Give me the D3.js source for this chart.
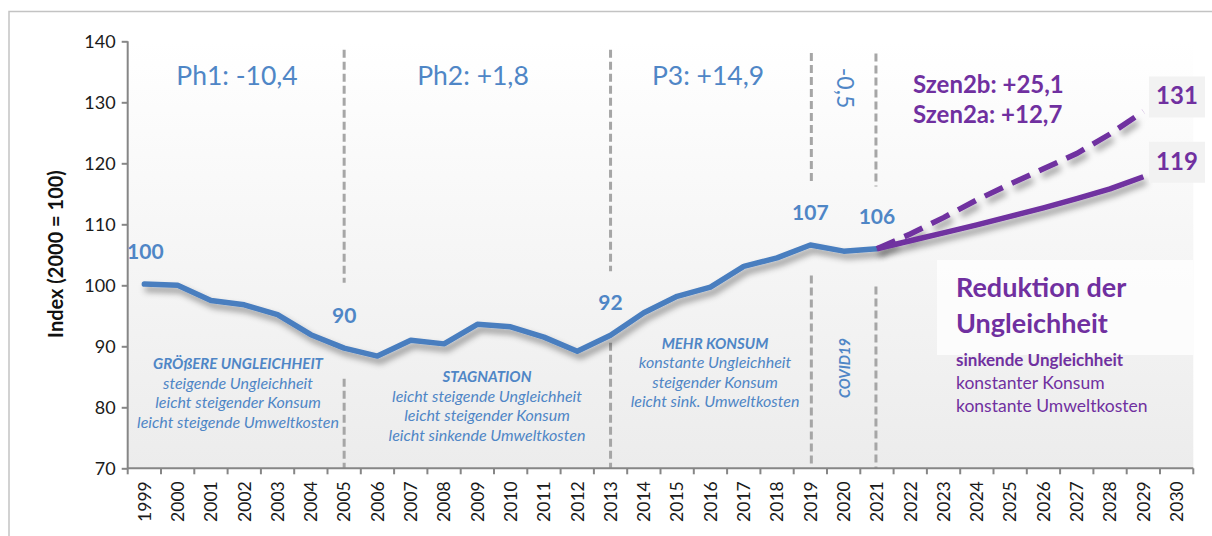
<!DOCTYPE html>
<html><head><meta charset="utf-8">
<script src="https://cdn.jsdelivr.net/npm/d3@7/dist/d3.min.js"></script>
<style>
html,body{margin:0;padding:0;background:#fff;}
svg{display:block;font-family:Lato,"Open Sans",sans-serif;}
</style></head>
<body>
<svg id="chart" width="1212" height="536"></svg>
<script>
// ---------- data ----------
const years = ["1999","2000","2001","2002","2003","2004","2005","2006","2007","2008","2009","2010","2011","2012","2013","2014","2015","2016","2017","2018","2019","2020","2021","2022","2023","2024","2025","2026","2027","2028","2029","2030"];
const histYears = ["1999","2000","2001","2002","2003","2004","2005","2006","2007","2008","2009","2010","2011","2012","2013","2014","2015","2016","2017","2018","2019","2020","2021"];
const histValues = [100.2,100.0,97.5,96.8,95.2,91.9,89.7,88.4,91.0,90.4,93.6,93.2,91.5,89.2,91.8,95.5,98.2,99.7,103.1,104.5,106.6,105.6,106.0];
const scenYears = ["2021","2022","2023","2024","2025","2026","2027","2028","2029"];
const scen2aValues = [106.0,107.3,108.6,109.9,111.3,112.7,114.2,115.8,117.8];
const scen2bValues = [106.0,108.4,111.1,114.0,116.6,119.1,121.6,124.8,128.5];
const yTicks = [70,80,90,100,110,120,130,140];
const pointLabelYears = ["1999","2005","2013","2019","2021"];
const pointLabelTexts = ["100","90","92","107","106"];
const scenEndLabels = ["131","119"];
const phaseTitles = ["Ph1: -10,4","Ph2: +1,8","P3: +14,9"];
const phaseBoundaryYears = ["2005","2013","2019","2021"];
const yAxisTitle = "Index (2000 = 100)";

(function(){
// ---------- layout ----------
const svg = d3.select("#chart");
const pL = 127.7, pR = 1193.3, pT = 41.3, pB = 468.3;
const x = d3.scaleBand().domain(years).range([pL, pR]).paddingInner(0).paddingOuter(0);
const y = d3.scaleLinear().domain([70,140]).range([pB, pT]);
const cx = d => x(d) + x.bandwidth()/2;

const blue = "#4a7ebf", blueText = "#4f86c6", purple = "#7030a0", grid = "#a6a6a6";

const defs = svg.append("defs");
const grad = defs.append("linearGradient").attr("id","bg").attr("x1",0).attr("y1",0).attr("x2",0).attr("y2",1);
grad.append("stop").attr("offset","0%").attr("stop-color","#ffffff");
grad.append("stop").attr("offset","100%").attr("stop-color","#ececec");
const f = defs.append("filter").attr("id","shadow").attr("x","-10%").attr("y","-30%").attr("width","130%").attr("height","180%");
f.append("feDropShadow").attr("dx",3).attr("dy",5).attr("stdDeviation",3).attr("flood-color","#000").attr("flood-opacity",0.4);

// outer frame
svg.append("path").attr("d","M9,540 V11.5 H1215").attr("fill","none").attr("stroke","#c3c3c3").attr("stroke-width",1.5);

// plot background
svg.append("rect").attr("x",pL).attr("y",pT).attr("width",pR-pL).attr("height",pB-pT).attr("fill","url(#bg)");

// white box behind scenario description
svg.append("rect").attr("x",937).attr("y",260).attr("width",pR-937).attr("height",95).attr("fill","#ffffff").attr("opacity",0.75);

// phase boundary dashed lines (segments in data units)
const boundarySegments = {
  "2005": [[138.6,100.4],[84.7,70]],
  "2013": [[138.6,102.3],[90.6,70]],
  "2019": [[138.1,116.5],[101.6,70.8]],
  "2021": [[138.0,116.2],[99.8,70]]
};
const bOffsets = {"2005":0,"2013":0,"2019":1,"2021":-1};
phaseBoundaryYears.forEach(yr => {
  boundarySegments[yr].forEach(seg => {
    svg.append("line").attr("x1",cx(yr)+bOffsets[yr]).attr("x2",cx(yr)+bOffsets[yr])
      .attr("y1",y(seg[0])).attr("y2",y(seg[1]))
      .attr("stroke",grid).attr("stroke-width",3).attr("stroke-dasharray","8,4");
  });
});

// axes
const yAxis = d3.axisLeft(y).tickValues(yTicks).tickSize(6).tickPadding(6);
const gy = svg.append("g").attr("transform",`translate(${pL},0)`).call(yAxis);
gy.selectAll("path,line").attr("stroke","#868686").attr("stroke-width",2);
gy.selectAll("text").attr("font-size",18).attr("fill","#1a1a1a").attr("font-family","Lato");
gy.select(".domain").attr("d",`M0,${pT}V${pB}`);

const xAxis = d3.axisBottom(x).tickSize(0).tickPadding(0);
const gx = svg.append("g").attr("transform",`translate(0,${pB})`).call(xAxis);
gx.select(".domain").attr("stroke","#868686").attr("stroke-width",2).attr("d",`M${pL},0H${pR}`);
gx.selectAll("text").attr("font-size",17.5).attr("fill","#1a1a1a").attr("font-family","Lato")
  .attr("transform","rotate(-90)").attr("text-anchor","end")
  .attr("x",-13).attr("y",0).attr("dy","0.36em");
// boundary tick marks
gx.selectAll(".bt").data(years.concat(["__end"])).enter().append("line").attr("class","bt")
  .attr("x1",(d,i)=> pL + i*x.step()).attr("x2",(d,i)=> pL + i*x.step())
  .attr("y1",0).attr("y2",6).attr("stroke","#868686").attr("stroke-width",2);

// y axis title
svg.append("text").attr("transform",`translate(63,254) rotate(-90)`).attr("text-anchor","middle")
  .attr("font-size",20).attr("font-weight","bold").attr("fill","#111").text(yAxisTitle);

// lines
const line = d3.line().x(d=>cx(d[0])).y(d=>y(d[1])).curve(d3.curveLinear);
const histData = histYears.map((d,i)=>[d,histValues[i]]);
const s2a = scenYears.map((d,i)=>[d,scen2aValues[i]]);
const s2b = scenYears.map((d,i)=>[d,scen2bValues[i]]);
svg.append("path").datum(histData).attr("d",line).attr("fill","none").attr("stroke",blue)
  .attr("stroke-width",5.5).attr("stroke-linejoin","round").attr("stroke-linecap","round").attr("filter","url(#shadow)");
svg.append("path").datum(s2b).attr("d",line).attr("fill","none").attr("stroke",purple)
  .attr("stroke-width",5.5).attr("stroke-dasharray","20,10").attr("filter","url(#shadow)");
svg.append("path").datum(s2a).attr("d",line).attr("fill","none").attr("stroke",purple)
  .attr("stroke-width",5.5).attr("stroke-linejoin","round").attr("filter","url(#shadow)");

// point labels
pointLabelYears.forEach((yr,i)=>{
  const v = histValues[histYears.indexOf(yr)];
  svg.append("text").attr("x",cx(yr)+(i===0?1:0)).attr("y",y(v)-25).attr("text-anchor","middle")
    .attr("font-size",21).attr("font-weight","bold").attr("fill",blueText).text(pointLabelTexts[i]);
});

// scenario end labels
[[s2b,scenEndLabels[0]],[s2a,scenEndLabels[1]]].forEach(([arr,t])=>{
  const last = arr[arr.length-1];
  const yy = y(last[1]) - 15;
  svg.append("rect").attr("x",1149).attr("y",yy-20).attr("width",56).attr("height",41).attr("fill","#f2f2f2");
  svg.append("text").attr("x",1177).attr("y",yy+8).attr("text-anchor","middle")
    .attr("font-size",24).attr("font-weight","bold").attr("fill",purple).text(t);
});

// phase titles
const phaseTitleX = [237, 473, 708];
phaseTitles.forEach((t,i)=>{
  svg.append("text").attr("x",phaseTitleX[i]).attr("y",85).attr("text-anchor","middle")
    .attr("font-size",26.5).attr("fill",blueText).text(t);
});
svg.append("text").attr("transform","translate(845,88) rotate(90)").attr("text-anchor","middle")
  .attr("dy","0.35em").attr("font-size",23).attr("fill",blueText).text("-0,5");

// scenario titles
svg.append("text").attr("x",913).attr("y",93).attr("font-size",24).attr("font-weight","bold").attr("fill",purple).text("Szen2b: +25,1");
svg.append("text").attr("x",913).attr("y",123).attr("font-size",24).attr("font-weight","bold").attr("fill",purple).text("Szen2a: +12,7");

// phase descriptions
const blocks = [
  {x:238, y:369, lines:["GRÖßERE UNGLEICHHEIT","steigende Ungleichheit","leicht steigender Konsum","leicht steigende Umweltkosten"]},
  {x:487, y:382, lines:["STAGNATION","leicht steigende Ungleichheit","leicht steigender Konsum","leicht sinkende Umweltkosten"]},
  {x:715, y:348.5, lines:["MEHR KONSUM","konstante Ungleichheit","steigender Konsum","leicht sink. Umweltkosten"]}
];
blocks.forEach(b=>{
  b.lines.forEach((t,i)=>{
    svg.append("text").attr("x",b.x).attr("y",b.y+i*19.6).attr("text-anchor","middle")
      .attr("font-size",i===0?15:16).attr("font-style","italic").attr("font-weight",i===0?"bold":"normal")
      .attr("fill",blueText).text(t);
  });
});
svg.append("text").attr("transform","translate(845,368) rotate(-90)").attr("text-anchor","middle")
  .attr("dy","0.35em").attr("font-size",14.5).attr("font-style","italic").attr("font-weight","bold").attr("fill",blueText).text("COVID19");

// scenario description
svg.append("text").attr("x",956).attr("y",297).attr("font-size",27).attr("font-weight","bold").attr("fill",purple).text("Reduktion der");
svg.append("text").attr("x",956).attr("y",333).attr("font-size",27).attr("font-weight","bold").attr("fill",purple).text("Ungleichheit");
svg.append("text").attr("x",956).attr("y",366).attr("font-size",17).attr("font-weight","bold").attr("fill",purple).text("sinkende Ungleichheit");
svg.append("text").attr("x",956).attr("y",389).attr("font-size",17.5).attr("fill",purple).text("konstanter Konsum");
svg.append("text").attr("x",956).attr("y",412).attr("font-size",17.5).attr("fill",purple).text("konstante Umweltkosten");
})();
</script>
</body></html>
